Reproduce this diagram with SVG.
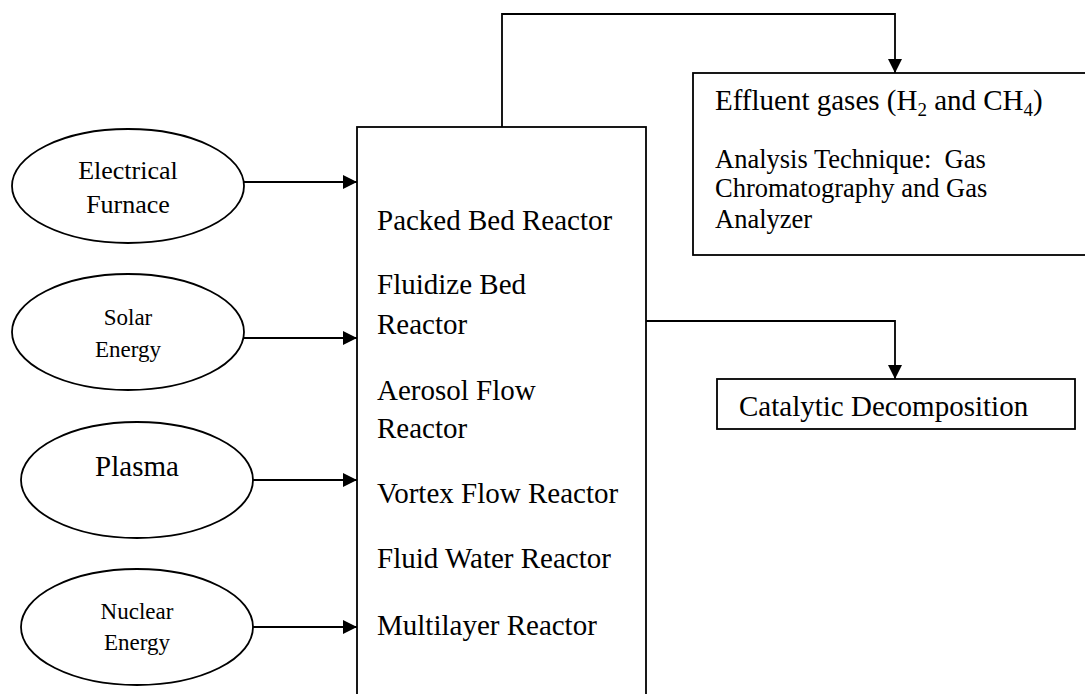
<svg xmlns="http://www.w3.org/2000/svg" width="1085" height="694" viewBox="0 0 1085 694">
<style>
.shape{fill:#fff;stroke:#000;stroke-width:1.8}
.conn{fill:none;stroke:#000;stroke-width:1.8}
text{font-family:"Liberation Serif","Times New Roman",serif;fill:#000}
.big{font-size:29px}
.mid{font-size:26.5px}
.el{font-size:26px}
.sm{font-size:23px}
</style>
<defs>
<marker id="ah" viewBox="0 0 10 10" refX="10" refY="5" markerWidth="15" markerHeight="14" markerUnits="userSpaceOnUse" orient="auto">
<path d="M0,0 L10,5 L0,10 Z" fill="#000"/>
</marker>
</defs>
<rect width="1085" height="694" fill="#fff"/>
<g id="connectors">
<line class="conn" x1="243" y1="182" x2="357" y2="182" marker-end="url(#ah)"/>
<line class="conn" x1="243" y1="338" x2="357" y2="338" marker-end="url(#ah)"/>
<line class="conn" x1="253" y1="480" x2="357" y2="480" marker-end="url(#ah)"/>
<line class="conn" x1="253" y1="627" x2="357" y2="627" marker-end="url(#ah)"/>
<polyline class="conn" points="502,127 502,14 895,14 895,73" marker-end="url(#ah)"/>
<polyline class="conn" points="646,321 895,321 895,379" marker-end="url(#ah)"/>
</g>
<g id="electrical">
<ellipse class="shape" cx="128" cy="186" rx="116" ry="57"/>
<text class="el" x="128" y="179" text-anchor="middle">Electrical</text>
<text class="el" x="128" y="213" text-anchor="middle">Furnace</text>
</g>
<g id="solar">
<ellipse class="shape" cx="128" cy="332" rx="116" ry="58"/>
<text class="sm" x="128" y="325" text-anchor="middle">Solar</text>
<text class="sm" x="128" y="357" text-anchor="middle">Energy</text>
</g>
<g id="plasma">
<ellipse class="shape" cx="137" cy="480" rx="116" ry="58"/>
<text class="big" x="137" y="476" text-anchor="middle">Plasma</text>
</g>
<g id="nuclear">
<ellipse class="shape" cx="137" cy="627" rx="116" ry="58"/>
<text class="sm" x="137" y="619" text-anchor="middle">Nuclear</text>
<text class="sm" x="137" y="650" text-anchor="middle">Energy</text>
</g>
<g id="reactors">
<rect class="shape" x="357" y="127" width="289" height="580"/>
<text class="big" x="377" y="230">Packed Bed Reactor</text>
<text class="big" x="377" y="294">Fluidize Bed</text>
<text class="big" x="377" y="334">Reactor</text>
<text class="big" x="377" y="400">Aerosol Flow</text>
<text class="big" x="377" y="438">Reactor</text>
<text class="big" x="377" y="503">Vortex Flow Reactor</text>
<text class="big" x="377" y="568">Fluid Water Reactor</text>
<text class="big" x="377" y="635">Multilayer Reactor</text>
</g>
<g id="effluent">
<rect class="shape" x="693" y="73" width="400" height="182"/>
<text class="big" x="715" y="110">Effluent gases (H<tspan font-size="19" dy="6">2</tspan><tspan dy="-6"> and CH</tspan><tspan font-size="19" dy="6">4</tspan><tspan dy="-6">)</tspan></text>
<text class="mid" x="715" y="168" xml:space="preserve">Analysis Technique:  Gas</text>
<text class="mid" x="715" y="197">Chromatography and Gas</text>
<text class="mid" x="715" y="228">Analyzer</text>
</g>
<g id="catalytic">
<rect class="shape" x="717" y="379" width="358" height="50"/>
<text class="big" x="739" y="416">Catalytic Decomposition</text>
</g>
</svg>
